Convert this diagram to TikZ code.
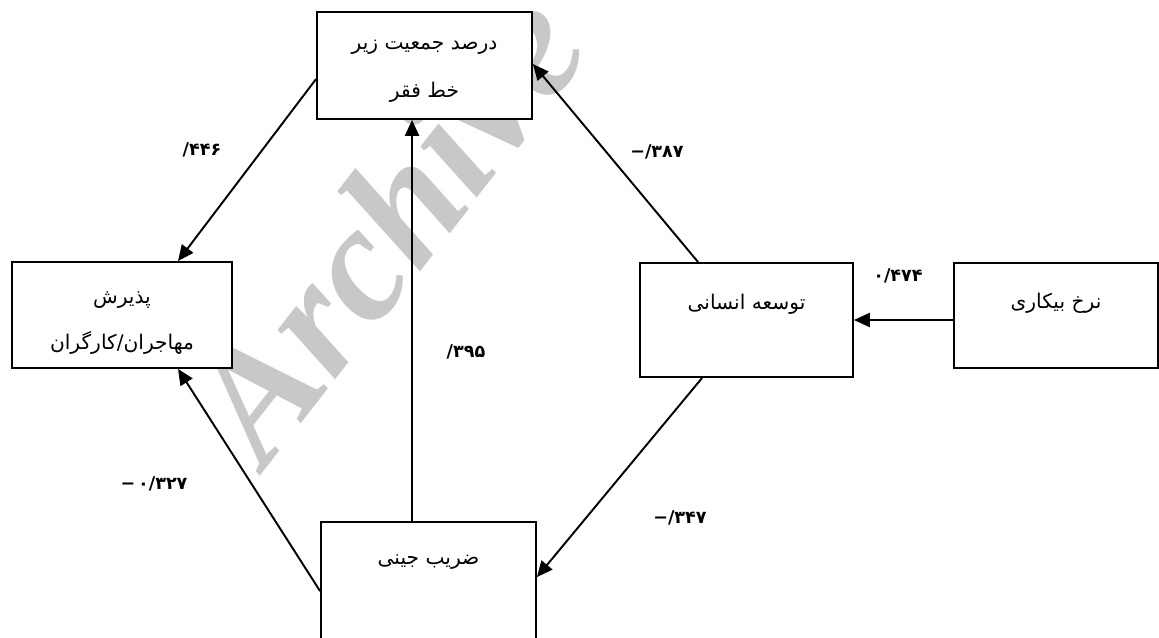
\documentclass[tikz,border=0pt]{standalone}
\usepackage{fontspec}
\setmainfont{Liberation Serif}
\newfontfamily\arabicfont[Script=Arabic]{DejaVu Sans}
\newfontfamily\numfont{DejaVu Sans}
\newfontfamily\wmfont{Liberation Serif}
\TeXXeTstate=1
\usetikzlibrary{calc,arrows.meta}
\definecolor{wmgray}{RGB}{200,200,200}
\tikzset{
	box/.style={draw, line width=1.1pt, fill=white, inner sep=0pt},
	txt/.style={font=\arabicfont\fontsize{11.5}{13}\selectfont, inner sep=0pt},
	num/.style={font=\numfont\bfseries\fontsize{10}{12}\selectfont, inner sep=0pt},
	link/.style={line width=1.1pt, -{Triangle[length=9pt,width=8pt]}}
}
\newcommand{\fa}[1]{\beginR #1\endR}

\begin{document}
\begin{tikzpicture}[x=0.02cm, y=-0.02cm]
			%%%%% START %%%%%
			\useasboundingbox (0, 0) rectangle (1159, 637);
			\clip (0, 0) rectangle (1159, 637);
			
			\node[text=wmgray, font=\wmfont\bfseries\itshape\fontsize{94}{94}\selectfont, rotate=52] (wm) at (385, 225) {Archive};
			
			\node[box, minimum width=4.3cm, minimum height=2.14cm] (pov) at (424.5, 65.5) {};
			\node[box, minimum width=4.4cm, minimum height=2.12cm] (mig) at (122, 315) {};
			\node[box, minimum width=4.26cm, minimum height=2.28cm] (dev) at (746.5, 320) {};
			\node[box, minimum width=4.08cm, minimum height=2.1cm] (unemp) at (1056, 315.5) {};
			\node[box, minimum width=4.3cm, minimum height=4cm] (gini) at (428.5, 622) {};
			
			\node[txt] (povA) at (424.5, 47) {\fa{درصد جمعیت زیر}};
			\node[txt] (povB) at (424.5, 92) {\fa{خط فقر}};
			\node[txt] (migA) at (122, 300) {\fa{پذیرش}};
			\node[txt] (migB) at (122, 343) {\fa{مهاجران/کارگران}};
			\node[txt] (devA) at (746.5, 304) {\fa{توسعه انسانی}};
			\node[txt] (unempA) at (1056, 303) {\fa{نرخ بیکاری}};
			\node[txt] (giniA) at (428.5, 562) {\fa{ضریب جینی}};
			
			\draw[link] ($(pov.north west)+(0, 68)$) -- ($(mig.north west)+(167, 0)$);
			\draw[link] ($(dev.north west)+(59, 0)$) -- ($(pov.north east)+(0, 53)$);
			\draw[link] ($(gini.north west)+(92, 0)$) -- ($(pov.south west)+(96, 0)$);
			\draw[link] ($(gini.north west)+(0, 70)$) -- ($(mig.south west)+(167, 0)$);
			\draw[link] ($(dev.south west)+(63, 0)$) -- ($(gini.north east)+(0, 56)$);
			\draw[link] (unemp.west |- dev.east) -- (dev.east);
			
			\node[num] (n446) at (202, 150) {/۴۴۶};
			\node[num] (n387) at (657, 152) {−/۳۸۷};
			\node[num] (n474) at (898, 276) {۰/۴۷۴};
			\node[num] (n395) at (466, 352) {/۳۹۵};
			\node[num] (n327) at (154, 484) {−\,۰/۳۲۷};
			\node[num] (n347) at (680, 518) {−/۳۴۷};
			
			%%%%% END %%%%%
\end{tikzpicture}
\end{document}
